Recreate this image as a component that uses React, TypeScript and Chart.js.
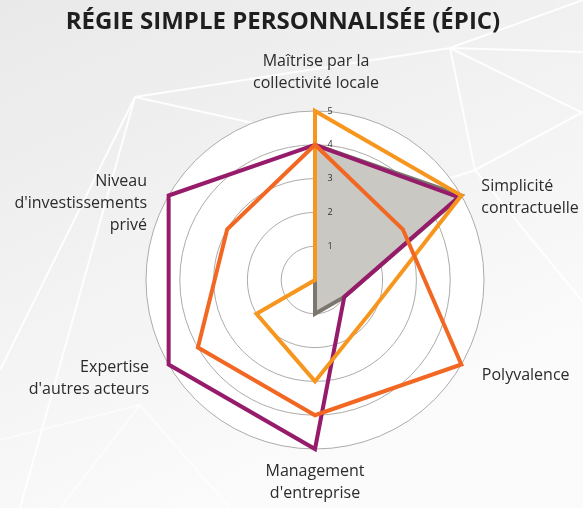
import React, { useEffect, useRef } from 'react';
import { Chart, registerables } from 'chart.js';

Chart.register(...registerables);

const TITLE = 'RÉGIE SIMPLE PERSONNALISÉE (ÉPIC)';
const categories: string[][] = [
  ['Maîtrise par la', 'collectivité locale'],
  ['Simplicité', 'contractuelle'],
  ['Polyvalence'],
  ['Management', "d'entreprise"],
  ['Expertise', "d'autres acteurs"],
  ['Niveau', "d'investissements", 'privé'],
];
const tickValues = [1, 2, 3, 4, 5];
const seriesGray = [4, 5, 1, 1, 0, 0];
const seriesPurple = [4, 4.9, 1, 5, 5, 5];
const seriesOrange = [4, 3, 5, 4, 4, 3];
const seriesYellow = [5, 5, 1.9, 3, 2, 0];

const FONT = '"Open Sans", "DejaVu Sans", sans-serif';

const backgroundPlugin = {
  id: 'bgDecor',
  beforeDraw(chart: any) {
    const { ctx, width, height } = chart;
    const r = chart.scales.r;
    ctx.save();
    const g = ctx.createLinearGradient(0, 0, 220, height);
    g.addColorStop(0, '#e9e9ea');
    g.addColorStop(1, '#fbfbfb');
    ctx.fillStyle = g;
    ctx.fillRect(0, 0, width, height);
    // decorative white network lines
    const segs: number[][] = [
      [135, 97, 450, 48],
      [135, 97, 330, 140],
      [135, 97, 0, 370],
      [135, 97, 20, 508],
      [450, 48, 583, 0],
      [450, 48, 583, 52],
      [450, 48, 583, 113],
      [450, 48, 475, 170],
      [475, 170, 583, 302],
      [475, 170, 583, 112],
      [475, 170, 400, 195],
    ];
    ctx.strokeStyle = 'rgba(255,255,255,0.9)';
    ctx.lineWidth = 2;
    for (const [x1, y1, x2, y2] of segs) {
      ctx.beginPath();
      ctx.moveTo(x1, y1);
      ctx.lineTo(x2, y2);
      ctx.stroke();
    }
    const faint: number[][] = [
      [140, 405, 0, 440],
      [140, 405, 60, 508],
      [140, 405, 230, 508],
    ];
    ctx.strokeStyle = 'rgba(255,255,255,0.6)';
    for (const [x1, y1, x2, y2] of faint) {
      ctx.beginPath();
      ctx.moveTo(x1, y1);
      ctx.lineTo(x2, y2);
      ctx.stroke();
    }
    ctx.beginPath();
    ctx.arc(r.xCenter, r.yCenter, r.drawingArea, 0, Math.PI * 2);
    ctx.fillStyle = '#ffffff';
    ctx.fill();
    ctx.restore();
  },
};

const LABEL_LAYOUT = [
  { dx: 1, dy: -38.5, align: 'center' },
  { dx: 20, dy: 2, align: 'left' },
  { dx: 20.5, dy: 10.5, align: 'left' },
  { dx: 0, dy: 33.5, align: 'center' },
  { dx: -19.6, dy: 14, align: 'right' },
  { dx: -21.6, dy: 8, align: 'right' },
];

const textPlugin = {
  id: 'texts',
  afterDraw(chart: any) {
    const { ctx } = chart;
    const r = chart.scales.r;
    ctx.save();
    // title
    ctx.fillStyle = '#1f1f1f';
    ctx.font = `bold 24px ${FONT}`;
    ctx.textAlign = 'center';
    ctx.textBaseline = 'middle';
    ctx.fillText(TITLE, 283, 22);
    // ticks
    ctx.font = `9px ${FONT}`;
    ctx.fillStyle = '#333333';
    for (const v of tickValues) {
      const d = r.getDistanceFromCenterForValue(v);
      ctx.fillText(String(v), r.xCenter + 15, r.yCenter - d);
    }
    // point labels
    ctx.font = `16px ${FONT}`;
    ctx.fillStyle = '#2b2b2b';
    const LH = 21.7;
    categories.forEach((lines, i) => {
      const p = r.getPointPosition(i, r.drawingArea);
      const lay = LABEL_LAYOUT[i];
      ctx.textAlign = lay.align;
      const cy = p.y + lay.dy;
      lines.forEach((t, k) => {
        ctx.fillText(t, p.x + lay.dx, cy + (k - (lines.length - 1) / 2) * LH);
      });
    });
    ctx.restore();
  },
};

export default function App() {
  const ref = useRef<HTMLCanvasElement | null>(null);
  useEffect(() => {
    if (!ref.current) return;
    const chart = new Chart(ref.current, {
      type: 'radar',
      data: {
        labels: categories.map((c) => c.join(' ')),
        datasets: [
          {
            label: 'Orange',
            data: seriesOrange,
            borderColor: '#f26722',
            backgroundColor: 'transparent',
            fill: false,
            borderWidth: 4,
            order: 1,
          },
          {
            label: 'Jaune',
            data: seriesYellow,
            borderColor: '#f7961e',
            backgroundColor: 'transparent',
            fill: false,
            borderWidth: 4,
            order: 2,
          },
          {
            label: 'Violet',
            data: seriesPurple,
            borderColor: '#961b6a',
            backgroundColor: 'transparent',
            fill: false,
            borderWidth: 4,
            order: 3,
          },
          {
            label: 'Gris',
            data: seriesGray,
            borderColor: '#7b776f',
            backgroundColor: '#cac8c2',
            fill: true,
            borderWidth: 4,
            order: 4,
          },
        ],
      },
      options: {
        responsive: true,
        maintainAspectRatio: false,
        animation: false,
        layout: { padding: { left: 146, right: 99, top: 111, bottom: 59 } },
        plugins: {
          legend: { display: false },
          tooltip: { enabled: false },
          title: { display: false },
        },
        elements: {
          point: { radius: 0, hoverRadius: 0 },
          line: { tension: 0, borderJoinStyle: 'miter' },
        },
        scales: {
          r: {
            min: 0,
            max: 5,
            ticks: { display: false, stepSize: 1 },
            grid: { circular: true, color: '#aeaca8', lineWidth: 1 },
            angleLines: { display: false },
            pointLabels: { display: false },
          },
        },
      },
      plugins: [backgroundPlugin, textPlugin],
    } as any);
    return () => chart.destroy();
  }, []);
  return (
    <div style={{ position: 'absolute', left: 0, top: 0, width: 583, height: 508 }}>
      <canvas ref={ref} />
    </div>
  );
}
